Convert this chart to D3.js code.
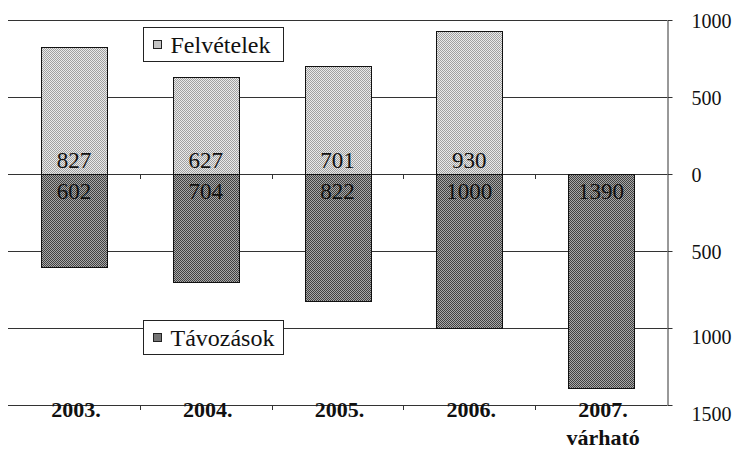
<!DOCTYPE html>
<html>
<head>
<meta charset="utf-8">
<script src="https://cdn.jsdelivr.net/npm/d3@7"></script>
<style>
  html, body { margin: 0; padding: 0; background: #fff; }
</style>
</head>
<body>
<svg id="chart" width="740" height="450"></svg>
<script>
// values
const categories = ["2003.", "2004.", "2005.", "2006.", "2007."];
const categoryLines = [["2003."], ["2004."], ["2005."], ["2006."], ["2007.", "várható"]];
const felvetelek = [827, 627, 701, 930, null];
const tavozasok = [602, 704, 822, 1000, 1390];
const yTicks = [1000, 500, 0, -500, -1000, -1500];

const fontName = "Liberation Serif";
const svg = d3.select("#chart")
  .attr("font-family", fontName)
  .style("font-family", fontName);
const plotLeft = 8, plotRight = 667, plotTop = 20, plotBottom = 405;

function serifText(sel, size, weight) {
  return sel
    .attr("font-family", fontName)
    .style("font-family", fontName)
    .attr("font-size", size)
    .style("font-size", size + "px")
    .attr("font-weight", weight || "normal")
    .style("font-weight", weight || "normal")
    .attr("fill", "#111");
}

const x = d3.scaleBand()
  .domain(categories)
  .range([plotLeft, plotRight])
  .paddingInner(0.5)
  .paddingOuter(0.25);

const y = d3.scaleLinear()
  .domain([-1500, 1000])
  .range([plotBottom, plotTop]);

// fill patterns
const defs = svg.append("defs");
function checker(id, a, b) {
  const p = defs.append("pattern")
    .attr("id", id)
    .attr("patternUnits", "userSpaceOnUse")
    .attr("width", 2).attr("height", 2);
  p.append("rect").attr("width", 2).attr("height", 2).attr("fill", a);
  p.append("rect").attr("width", 1).attr("height", 1).attr("fill", b);
  p.append("rect").attr("x", 1).attr("y", 1).attr("width", 1).attr("height", 1).attr("fill", b);
}
checker("light", "#eaeaea", "#a0a0a0");
checker("dark", "#a8a8a8", "#404040");

// gridlines
svg.append("g")
  .selectAll("line")
  .data(yTicks)
  .enter().append("line")
  .attr("x1", plotLeft)
  .attr("x2", plotRight)
  .attr("y1", d => Math.round(y(d)) + 0.5)
  .attr("y2", d => Math.round(y(d)) + 0.5)
  .attr("stroke", "#333")
  .attr("stroke-width", 1);

// right axis
const yAxis = d3.axisRight(y)
  .tickValues(yTicks)
  .tickSize(5)
  .tickSizeOuter(0)
  .tickPadding(19)
  .tickFormat(d => Math.abs(d));

const ax = svg.append("g")
  .attr("transform", `translate(${plotRight + 0.5},0)`)
  .call(yAxis)
  .attr("font-family", fontName)
  .attr("font-size", 20);
ax.select(".domain").attr("stroke", "#333");
ax.selectAll(".tick line").attr("stroke", "#333");
serifText(ax.selectAll(".tick text"), 20)
  .attr("dy", d => d < -500 ? "0.75em" : "0.35em");

// category boundary ticks on zero line and bottom line
const bounds = categories.slice(0, -1).map(c => x(c) + x.bandwidth() + (x.step() - x.bandwidth()) / 2);
[0, -1500].forEach(v => {
  svg.append("g")
    .selectAll("line")
    .data(bounds)
    .enter().append("line")
    .attr("x1", d => Math.round(d) + 0.5)
    .attr("x2", d => Math.round(d) + 0.5)
    .attr("y1", Math.round(y(v)))
    .attr("y2", Math.round(y(v)) + 5)
    .attr("stroke", "#333");
});

// bars
const upData = categories.map((c, i) => ({ c, v: felvetelek[i] })).filter(d => d.v != null);
const downData = categories.map((c, i) => ({ c, v: tavozasok[i] }));

svg.append("g")
  .selectAll("rect")
  .data(upData)
  .enter().append("rect")
  .attr("x", d => Math.round(x(d.c)) + 0.5)
  .attr("y", d => Math.round(y(d.v)) + 0.5)
  .attr("width", Math.round(x.bandwidth()))
  .attr("height", d => Math.round(y(0)) - Math.round(y(d.v)))
  .attr("fill", "url(#light)")
  .attr("stroke", "#111");

svg.append("g")
  .selectAll("rect")
  .data(downData)
  .enter().append("rect")
  .attr("x", d => Math.round(x(d.c)) + 0.5)
  .attr("y", Math.round(y(0)) + 0.5)
  .attr("width", Math.round(x.bandwidth()))
  .attr("height", d => Math.round(y(-d.v)) - Math.round(y(0)))
  .attr("fill", "url(#dark)")
  .attr("stroke", "#111");

// value labels
serifText(svg.append("g")
  .selectAll("text")
  .data(upData)
  .enter().append("text")
  .attr("x", d => x(d.c) + x.bandwidth() / 2)
  .attr("y", y(0) - 6)
  .attr("text-anchor", "middle"), 23)
  .text(d => d.v);

serifText(svg.append("g")
  .selectAll("text")
  .data(downData)
  .enter().append("text")
  .attr("x", d => x(d.c) + x.bandwidth() / 2)
  .attr("y", y(0) + 25)
  .attr("text-anchor", "middle"), 23)
  .text(d => d.v);

// category labels
const cat = serifText(svg.append("g")
  .selectAll("text")
  .data(categories)
  .enter().append("text")
  .attr("x", d => x(d) + x.bandwidth() / 2 + 2)
  .attr("y", 417)
  .attr("text-anchor", "middle"), 22, "bold");
cat.selectAll("tspan")
  .data((d, i) => categoryLines[i])
  .enter().append("tspan")
  .attr("x", function() { return this.parentNode.getAttribute("x"); })
  .attr("dy", (d, i) => i === 0 ? 0 : 28)
  .text(d => d);

// legends
const legends = [
  { name: "Felvételek", fill: "url(#light)", y: 27 },
  { name: "Távozások", fill: "url(#dark)", y: 320 }
];
const lg = svg.append("g")
  .selectAll("g")
  .data(legends)
  .enter().append("g")
  .attr("transform", d => `translate(143.5,${d.y + 0.5})`);
lg.append("rect")
  .attr("width", 140).attr("height", 34)
  .attr("fill", "#fff").attr("stroke", "#222");
lg.append("rect")
  .attr("x", 10).attr("y", 13)
  .attr("width", 8).attr("height", 8)
  .attr("fill", d => d.fill).attr("stroke", "#222");
serifText(lg.append("text")
  .attr("x", 27).attr("y", 25), 24)
  .text(d => d.name);
</script>
</body>
</html>
